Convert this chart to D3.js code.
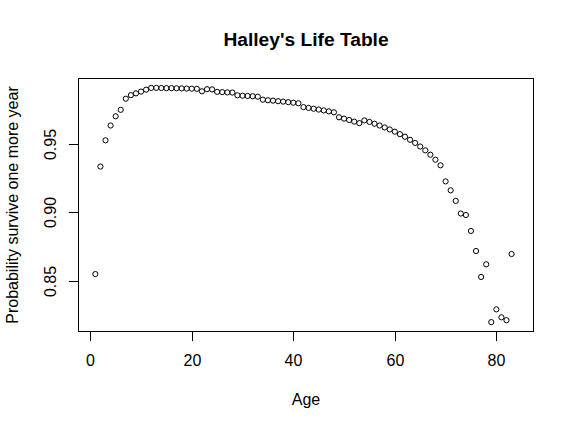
<!DOCTYPE html>
<html>
<head>
<meta charset="utf-8">
<script src="https://cdn.jsdelivr.net/npm/d3@7"></script>
<style>
  html, body { margin: 0; padding: 0; background: #ffffff; }
  svg { display: block; }
  text { font-family: "Liberation Sans", Arial, Helvetica, sans-serif; fill: #000; }
</style>
</head>
<body>
<script>
// ---- data ----
const ages = [1,2,3,4,5,6,7,8,9,10,11,12,13,14,15,16,17,18,19,20,
  21,22,23,24,25,26,27,28,29,30,31,32,33,34,35,36,37,38,39,40,
  41,42,43,44,45,46,47,48,49,50,51,52,53,54,55,56,57,58,59,60,
  61,62,63,64,65,66,67,68,69,70,71,72,73,74,75,76,77,78,79,80,
  81,82,83,84];
const survive = [0.8550,0.9333,0.9524,0.9632,0.9699,0.9746,0.9827,0.9853,0.9866,0.9879,
  0.9893,0.9906,0.9906,0.9905,0.9904,0.9904,0.9903,0.9902,0.9901,0.9900,
  0.9899,0.9881,0.9896,0.9895,0.9877,0.9875,0.9873,0.9872,0.9852,0.9849,
  0.9847,0.9845,0.9842,0.9820,0.9816,0.9813,0.9809,0.9806,0.9802,0.9798,
  0.9794,0.9766,0.9760,0.9754,0.9748,0.9742,0.9735,0.9728,0.9692,0.9682,
  0.9672,0.9660,0.9649,0.9669,0.9658,0.9645,0.9632,0.9618,0.9603,0.9587,
  0.9569,0.9550,0.9528,0.9505,0.9479,0.9451,0.9419,0.9383,0.9342,0.9225,
  0.9160,0.9083,0.8991,0.8980,0.8864,0.8718,0.8529,0.8621,0.8200,0.8293,
  0.8235,0.8214,0.8696,null];
const xTicks = [0, 20, 40, 60, 80];
const yTicks = [0.85, 0.90, 0.95];
const titleText = "Halley's Life Table";
const xLabel = "Age";
const yLabel = "Probability survive one more year";

// ---- layout ----
const W = 574, H = 429;
const L = 78.5, R = 533.5, T = 78.5, B = 331.5;

const svg = d3.select("body").append("svg").attr("width", W).attr("height", H);

// R-style 4% range extension
function rExt(vals) {
  const e = d3.extent(vals.filter(v => v != null));
  const d = (e[1] - e[0]) * 0.04;
  return [e[0] - d, e[1] + d];
}
const x = d3.scaleLinear().domain(rExt(ages)).range([L, R]);
const y = d3.scaleLinear().domain(rExt(survive)).range([B, T]);

const pts = ages.map((a, i) => ({a, v: survive[i]})).filter(d => d.v != null);

// points
svg.append("g").selectAll("circle").data(pts).enter().append("circle")
  .attr("cx", d => x(d.a)).attr("cy", d => y(d.v)).attr("r", 2.6)
  .attr("fill", "none").attr("stroke", "#000").attr("stroke-width", 1);

// box
svg.append("rect").attr("x", L).attr("y", T).attr("width", R - L).attr("height", B - T)
  .attr("fill", "none").attr("stroke", "#000").attr("stroke-width", 1);

// x axis
const gx = svg.append("g").attr("transform", `translate(0,${B})`)
  .call(d3.axisBottom(x).tickValues(xTicks).tickSize(9.6).tickSizeOuter(0).tickFormat(d3.format("d")));
gx.select(".domain").remove();
gx.selectAll(".tick").attr("transform", d => `translate(${Math.round(x(d)) + 0.5},0)`);
gx.selectAll(".tick line").attr("stroke", "#000");
gx.selectAll(".tick text").attr("y", 34.5).attr("dy", 0)
  .style("font-size", "16px").style("font-family", "'Liberation Sans', Arial, sans-serif").attr("fill", "#000");

// y axis
const gy = svg.append("g").attr("transform", `translate(${L},0)`)
  .call(d3.axisLeft(y).tickValues(yTicks).tickSize(9.6).tickSizeOuter(0).tickFormat(d3.format(".2f")));
gy.select(".domain").remove();
gy.selectAll(".tick").attr("transform", d => `translate(0,${Math.round(y(d)) + 0.5})`);
gy.selectAll(".tick line").attr("stroke", "#000");
gy.selectAll(".tick text").attr("x", null).attr("dy", null).attr("y", null)
  .attr("transform", `translate(${56 - L},0) rotate(-90)`)
  .attr("text-anchor", "middle")
  .style("font-size", "16px").style("font-family", "'Liberation Sans', Arial, sans-serif").attr("fill", "#000");

// title
svg.append("text").attr("x", (L + R) / 2).attr("y", 45.7).attr("text-anchor", "middle")
  .style("font-size", "19.2px").style("font-weight", "bold").text(titleText);

// axis labels
svg.append("text").attr("x", (L + R) / 2).attr("y", 405).attr("text-anchor", "middle")
  .style("font-size", "16px").text(xLabel);
svg.append("text").attr("transform", `translate(17.5,${(T + B) / 2}) rotate(-90)`)
  .attr("text-anchor", "middle").style("font-size", "16px").text(yLabel);
</script>
</body>
</html>
